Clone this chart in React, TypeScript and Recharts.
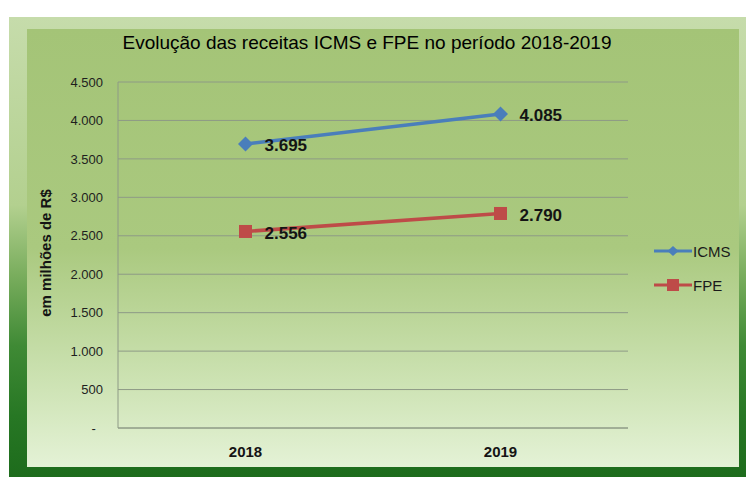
import React from "react";
import {
  LineChart, Line, XAxis, YAxis, CartesianGrid, Legend, LabelList,
} from "recharts";

// values (em milhões de R$)
const years = ["2018", "2019"];
const icms = [3695, 4085];
const fpe = [2556, 2790];
const yTicks = [0, 500, 1000, 1500, 2000, 2500, 3000, 3500, 4000, 4500];
const seriesOrder = ["icms", "fpe"];

const chartData = years.map((year, i) => ({ year, icms: icms[i], fpe: fpe[i] }));

const FONT = "'Liberation Sans', Arial, sans-serif";
const BLUE = "#4a7ebb";
const RED = "#be4b48";
const GRID = "#8e9a86";

// pt-BR thousands separator, zero shown as a dash like the Excel accounting format
function fmt(v: number) {
  if (v === 0) return "-\u00a0\u00a0";
  return String(v).replace(/\B(?=(\d{3})+(?!\d))/g, ".");
}

function diamondPath(cx: number, cy: number, rx: number, ry: number) {
  return `M${cx},${cy - ry}L${cx + rx},${cy}L${cx},${cy + ry}L${cx - rx},${cy}Z`;
}

function DiamondDot(props: any) {
  const { cx, cy, index } = props;
  if (cx == null || cy == null) return null;
  return <path key={`dia-${index}`} d={diamondPath(cx, cy, 7.5, 7.5)} fill={BLUE} />;
}

function SquareDot(props: any) {
  const { cx, cy, index } = props;
  if (cx == null || cy == null) return null;
  return <rect key={`sq-${index}`} x={cx - 6.5} y={cy - 6.5} width={13} height={13} fill={RED} />;
}

function ValueLabel(props: any) {
  const { x, y, value } = props;
  return (
    <text x={x + 19} y={y + 1.5} dy="0.355em" fontFamily={FONT} fontSize={17}
      fontWeight="bold" fill="#141414">
      {fmt(value)}
    </text>
  );
}

function YTitle(props: any) {
  const vb = props.viewBox || {};
  const x = vb.x + 18;
  const y = vb.y + vb.height / 2 - 2;
  return (
    <text x={x} y={y} transform={`rotate(-90 ${x} ${y})`} textAnchor="middle"
      dominantBaseline="central" fontFamily={FONT} fontSize={15} fontWeight="bold" fill="#141414">
      em milhões de R$
    </text>
  );
}

function renderLegend(props: any) {
  const payload = [...(props.payload || [])].sort(
    (a: any, b: any) => seriesOrder.indexOf(a.dataKey) - seriesOrder.indexOf(b.dataKey),
  );
  return (
    <div style={{ fontFamily: FONT, fontSize: 15, color: "#1a1a1a" }}>
      {payload.map((p: any) => (
        <div key={p.value} style={{ display: "flex", alignItems: "center", height: 34 }}>
          <svg width={38} height={14} style={{ marginRight: 1 }}>
            <line x1={0} x2={38} y1={7} y2={7} stroke={p.color} strokeWidth={3} />
            {p.dataKey === "icms"
              ? <path d={diamondPath(19, 7, 5.5, 5)} fill={p.color} />
              : <rect x={13} y={1} width={12} height={12} fill={p.color} />}
          </svg>
          <span>{p.value}</span>
        </div>
      ))}
    </div>
  );
}

export default function App() {
  return (
    <div style={{ position: "absolute", left: 0, top: 0, width: 746, height: 477, background: "#fff", overflow: "hidden" }}>
      {/* outer frame: light green on top fading to dark green at the bottom */}
      <div style={{
        position: "absolute", left: 9, top: 17, width: 745, height: 470,
        background: "linear-gradient(to bottom, #c6dcab 0%, #b3d08f 40%, #79ad5d 55%, #3f8a35 70%, #277724 85%, #1c6a1b 100%)",
      }} />
      {/* chart area */}
      <div style={{
        position: "absolute", left: 27, top: 29, width: 712, height: 438,
        background: "linear-gradient(to bottom, #a4c477 0%, #aac97f 50%, #cce2b2 80%, #e4f2d6 100%)",
      }} />
      <div style={{
        position: "absolute", left: 0, top: 33, width: 734, textAlign: "center",
        fontFamily: FONT, fontSize: 19, lineHeight: "19px", color: "#000",
      }}>
        Evolução das receitas ICMS e FPE no período 2018-2019
      </div>
      <div style={{ position: "absolute", left: 0, top: 0 }}>
        <LineChart width={746} height={477} data={chartData}
          margin={{ top: 82, right: 118, bottom: 19, left: 27 }}>
          <CartesianGrid vertical={false} stroke={GRID} strokeWidth={1} />
          <XAxis dataKey="year" scale="band" height={30} stroke={GRID} tickLine={false}
            tickSize={6} tickMargin={12}
            tick={{ fontFamily: FONT, fontSize: 15, fontWeight: "bold", fill: "#141414" }} />
          <YAxis width={91} domain={[0, 4500]} ticks={yTicks} tickFormatter={fmt}
            stroke={GRID} tickLine={false} tickSize={6} tickMargin={9}
            tick={{ fontFamily: FONT, fontSize: 13, fill: "#1e1e1e" }}
            label={YTitle} />
          <Legend layout="vertical" align="center" verticalAlign="middle" content={renderLegend}
            wrapperStyle={{ left: 654, top: 234, width: 90 }} />
          <Line dataKey="icms" name="ICMS" type="linear" stroke={BLUE} strokeWidth={3.5}
            dot={DiamondDot} activeDot={false} isAnimationActive={false}>
            <LabelList dataKey="icms" content={ValueLabel} />
          </Line>
          <Line dataKey="fpe" name="FPE" type="linear" stroke={RED} strokeWidth={3.5}
            dot={SquareDot} activeDot={false} isAnimationActive={false}>
            <LabelList dataKey="fpe" content={ValueLabel} />
          </Line>
        </LineChart>
      </div>
    </div>
  );
}
